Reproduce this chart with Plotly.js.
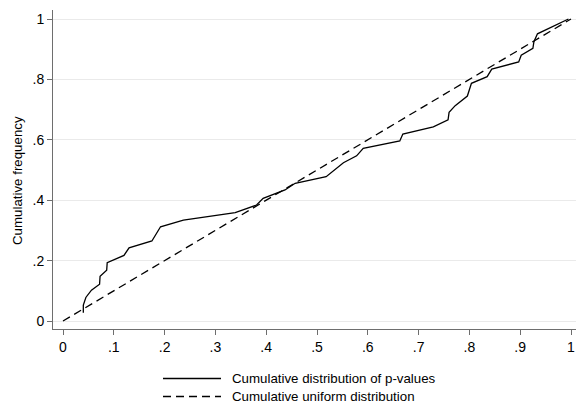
<!DOCTYPE html>
<html>
<head>
<meta charset="utf-8">
<script src="https://cdn.plot.ly/plotly-3.0.1.min.js"></script>
<style>html,body{margin:0;padding:0;background:#fff;}#chart{width:576px;height:405px;}</style>
</head>
<body>
<div id="chart"></div>
<script>
// Cumulative distribution of p-values
const pValues = [0.040, 0.040, 0.045, 0.056, 0.072, 0.073, 0.086, 0.087, 0.120, 0.130, 0.175, 0.192, 0.237, 0.339, 0.381, 0.394, 0.437, 0.457, 0.518, 0.552, 0.578, 0.591, 0.663, 0.669, 0.729, 0.758, 0.760, 0.772, 0.796, 0.804, 0.835, 0.844, 0.897, 0.902, 0.925, 0.927, 0.934, 0.995];
const cumFreq = [0.027, 0.053, 0.078, 0.102, 0.122, 0.148, 0.168, 0.193, 0.217, 0.242, 0.265, 0.312, 0.334, 0.359, 0.384, 0.406, 0.434, 0.456, 0.478, 0.524, 0.547, 0.572, 0.596, 0.619, 0.643, 0.666, 0.691, 0.713, 0.745, 0.787, 0.809, 0.834, 0.858, 0.880, 0.903, 0.925, 0.951, 1.0];
// Cumulative uniform distribution
const uniformX = [0, 1];
const uniformY = [0, 1];
// Tick labels
const xTickVals = [0, 0.1, 0.2, 0.3, 0.4, 0.5, 0.6, 0.7, 0.8, 0.9, 1];
const xTickText = ["0", ".1", ".2", ".3", ".4", ".5", ".6", ".7", ".8", ".9", "1"];
const yTickVals = [0, 0.2, 0.4, 0.6, 0.8, 1];
const yTickText = ["0", ".2", ".4", ".6", ".8", "1"];
const seriesNames = ["Cumulative distribution of p-values", "Cumulative uniform distribution"];
const yTitle = "Cumulative frequency";

const FONT = "Liberation Sans, Arial, sans-serif";
const AXISCOLOR = "#6e6e6e";

const traces = [
  {x: pValues, y: cumFreq, type: "scatter", mode: "lines", name: seriesNames[0],
   line: {color: "#000000", width: 1.3}, showlegend: false},
  {x: uniformX, y: uniformY, type: "scatter", mode: "lines", name: seriesNames[1],
   line: {color: "#000000", width: 1.3, dash: "8px,5px"}, showlegend: false}
];

const W = 576, H = 405;
const m = {l: 53, r: 0, t: 10, b: 76};
const pw = W - m.l - m.r, ph = H - m.t - m.b;
const px = v => (v - m.l) / pw;
const py = v => (H - m.b - v) / ph;

const legendRowsY = [378.5, 396.5];
const shapes = [];
const annotations = [];
seriesNames.forEach((nm, i) => {
  shapes.push({type: "line", xref: "paper", yref: "paper",
    x0: px(163), x1: px(221), y0: py(legendRowsY[i]), y1: py(legendRowsY[i]),
    line: {color: "#000", width: 1.3, dash: i === 0 ? "solid" : "8px,5px"}});
  annotations.push({xref: "paper", yref: "paper", x: px(231), y: py(legendRowsY[i]),
    xanchor: "left", yanchor: "middle", text: nm, showarrow: false, borderpad: 0,
    font: {family: FONT, size: 13.3, color: "#000"}});
});
annotations.push({xref: "paper", yref: "paper", x: px(17), y: py(181), textangle: -90,
  xanchor: "center", yanchor: "middle", text: yTitle, showarrow: false,
  font: {family: FONT, size: 13.3, color: "#000"}});

const layout = {
  width: W, height: H,
  margin: m,
  paper_bgcolor: "#ffffff", plot_bgcolor: "#ffffff",
  font: {family: FONT, size: 13, color: "#000"},
  showlegend: false,
  xaxis: {
    range: [-10/508, 1 + 5/508], tickmode: "array", tickvals: xTickVals, ticktext: xTickText,
    ticks: "outside", ticklen: 5, tickcolor: AXISCOLOR, tickwidth: 1,
    showline: true, linecolor: AXISCOLOR, linewidth: 1, showgrid: false, zeroline: false,
    tickfont: {family: FONT, size: 14, color: "#000"}
  },
  yaxis: {
    range: [-8/302, 1 + 9/302], tickmode: "array", tickvals: yTickVals, ticktext: yTickText,
    ticks: "outside", ticklen: 5, tickcolor: AXISCOLOR, tickwidth: 1,
    showline: true, linecolor: AXISCOLOR, linewidth: 1, showgrid: true, gridcolor: "#eaeaea", gridwidth: 1,
    zeroline: false,
    tickfont: {family: FONT, size: 14, color: "#000"}
  },
  shapes: shapes,
  annotations: annotations
};

Plotly.newPlot("chart", traces, layout, {displayModeBar: false, staticPlot: true});
</script>
</body>
</html>
